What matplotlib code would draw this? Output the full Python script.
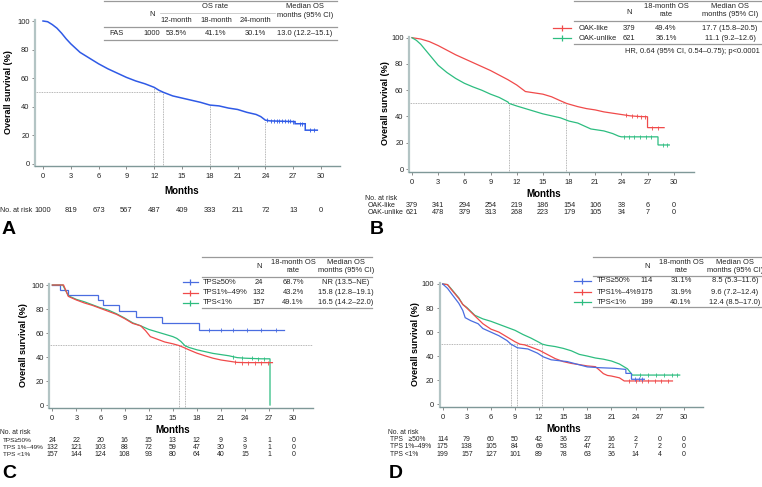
import numpy as np
import matplotlib
matplotlib.use('Agg')
import matplotlib.pyplot as plt
from matplotlib.transforms import blended_transform_factory

plt.rcParams['font.family'] = ['Liberation Sans', 'DejaVu Sans']

W, H = 762, 487

# ---------------- data ----------------
month_ticks = [0, 3, 6, 9, 12, 15, 18, 21, 24, 27, 30]

# A: full analysis set
a_t = [0, 0.5, 1, 1.5, 2, 2.5, 3, 3.5, 4, 5, 6, 7, 8, 9, 10, 11, 12, 12.5, 13, 14, 15, 16,
       17, 18, 19, 20, 21, 22, 23, 23.5, 24, 24.5, 27.2, 27.2, 28.3, 28.3, 29.6]
a_s = [100, 99.5, 97.5, 95, 91.5, 87.5, 84, 81, 78, 74, 70, 66.5, 63.5, 60.5, 58, 56, 53.5, 51.5,
       50, 47.5, 46, 44.5, 43, 41.1, 40.5, 39, 38, 36, 34.5, 33, 30.5, 30, 29.5, 28, 28, 23.5, 23.5]
a_cens = [24.2, 24.6, 24.9, 25.2, 25.5, 25.8, 26.1, 26.4, 26.7, 27.0, 27.7, 28.0, 28.8, 29.2]
a_risk = [1000, 819, 673, 567, 487, 409, 333, 211, 72, 13, 0]
a_median = 13.0

# B: OAK-like / OAK-unlike
b_like_t = [0, 0.5, 1, 2, 3, 4, 5, 6, 7, 8, 9, 10, 11, 12, 13, 14, 15, 16, 17, 17.7, 18, 19, 20,
            21, 22, 23, 24, 25, 26, 27.0, 27.0, 28.9]
b_like_s = [100, 99.5, 99, 97, 94, 90.5, 87, 84, 81, 78, 75, 71.5, 68, 64, 59, 58, 57, 55, 52, 50,
            49.4, 47.5, 46, 45, 43.5, 42.5, 41.5, 40.5, 40, 39.8, 31.5, 31.5]
b_unlike_t = [0, 0.5, 1, 1.5, 2, 3, 4, 5, 6, 7, 8, 9, 10, 11, 11.1, 12, 13, 14, 15, 16, 17, 18,
              19, 20, 20.5, 21, 22, 23, 23.7, 24, 28.2, 28.2, 29.5]
b_unlike_s = [100, 98, 95, 91, 87, 79, 73.5, 69, 65.3, 62.5, 60, 57, 54.5, 51, 50, 48, 46, 44, 42,
              40.5, 39, 36.5, 35, 32, 30.5, 30, 29, 27, 25, 24.5, 24.5, 18.3, 18.3]
b_like_cens = [24.5, 25.2, 25.8, 26.3, 26.7, 27.5, 28.2]
b_unlike_cens = [24.3, 24.9, 25.5, 26.1, 26.8, 27.4, 28.8, 29.2]
b_like_risk = [379, 341, 294, 254, 219, 186, 154, 106, 38, 6, 0]
b_unlike_risk = [621, 478, 379, 313, 268, 223, 179, 105, 34, 7, 0]
b_medians = [11.1, 17.7]

# C: TPS subgroups (set 1)
c_hi_t = [0, 1.0, 1.0, 2.0, 2.0, 5.7, 5.7, 6.35, 6.35, 8.3, 8.3, 10.4, 10.4, 13.6, 13.6, 18.3, 18.3, 28.9]
c_hi_s = [100, 100, 95.8, 95.8, 91.7, 91.7, 87.5, 87.5, 83.3, 83.3, 78.5, 78.5, 73.4, 73.4, 68.7,
          68.7, 62.5, 62.5]
c_mid_t = [0, 1.4, 2, 3, 4, 5, 6, 7, 8, 9, 10, 11, 11.6, 12.2, 13, 14, 15, 15.8, 16.5, 17, 18, 19,
           20, 21, 22, 23, 24, 27.4]
c_mid_s = [100, 100, 90.5, 87.5, 85, 83, 80.5, 78, 75.5, 72, 68, 66, 62, 57, 55, 52.5, 51, 49.5,
           47.5, 46, 43.2, 41, 39, 37.5, 36.5, 35.5, 35.3, 35.3]
c_lo_t = [0, 1.3, 2, 3, 4, 5, 6, 7, 8, 9, 10, 11, 12, 13, 14, 15, 15.5, 16, 16.5, 17, 18, 19, 20,
          21, 22, 23, 24, 26, 27.1, 27.1]
c_lo_s = [100, 100, 91, 88, 86, 83.5, 81, 79, 76, 72.5, 68.5, 66, 63, 61, 59, 57, 55.5, 53, 49.5,
          48, 46, 44.5, 43, 42, 41, 39.5, 39, 38.5, 38.5, 0]
c_hi_risk = [24, 22, 20, 16, 15, 13, 12, 9, 3, 1, 0]
c_mid_risk = [132, 121, 103, 88, 72, 59, 47, 30, 9, 1, 0]
c_lo_risk = [157, 144, 124, 108, 93, 80, 64, 40, 15, 1, 0]
c_medians = [15.8, 16.5]

# D: TPS subgroups (set 2)
d_hi_t = [0, 0.6, 1.2, 2.0, 2.5, 2.8, 3.5, 4.4, 5, 6, 7, 8, 8.5, 9.3, 10.6, 11.8, 12.5, 13.5, 15.5,
          17.2, 18, 19.3, 21.4, 22.8, 22.8, 23.5, 23.5, 25.1]
d_hi_s = [100, 96.4, 91, 84, 78, 72, 69.5, 67, 63, 60, 57, 53, 50, 47, 46, 42.5, 39.5, 37, 35.5,
          32.5, 31.1, 30.5, 29.9, 29, 25.7, 25.7, 20.8, 20.8]
d_mid_t = [0, 0.6, 1, 2, 2.5, 3, 4, 5, 6, 7, 8, 9, 9.6, 10.2, 11, 12, 13, 14, 15, 16, 17, 18, 19,
           19.5, 20, 20.5, 21, 22, 22.6, 28.6]
d_mid_s = [100, 99.5, 96, 88, 83, 80, 73.5, 67, 62.5, 60, 56, 52, 50, 49.4, 47.5, 45, 41.5, 38,
           35.5, 34, 33, 31.9, 31.3, 28.5, 25.5, 24, 23.5, 22, 19.4, 19.4]
d_lo_t = [0, 0.6, 1, 2, 2.5, 3, 4, 5, 6, 7, 8, 9, 10, 11, 12, 12.4, 13, 14, 15, 16, 17, 18, 19, 20,
          21, 22, 23, 23.3, 23.6, 29.5]
d_lo_s = [100, 99.5, 96.5, 88.5, 83, 80.5, 74, 71, 69, 66.5, 64, 61.5, 58, 55, 51.5, 50, 49, 48,
          46.5, 44.5, 41.5, 40.1, 38.5, 37.5, 36, 33.5, 29.5, 27, 24.3, 24.3]
d_hi_risk = [114, 79, 60, 50, 42, 36, 27, 16, 2, 0, 0]
d_mid_risk = [175, 138, 105, 84, 69, 53, 47, 21, 7, 2, 0]
d_lo_risk = [199, 157, 127, 101, 89, 78, 63, 36, 14, 4, 0]
d_medians = [8.5, 9.3, 12.4]

BLUE = '#2f5ae6'
BLUE2 = '#4a6de0'
RED = '#f04a4a'
GREEN = '#2dbd80'
TXT = '#222222'
GRID = '#8a8a8a'

fig = plt.figure(figsize=(W / 100, H / 100), dpi=100)

# overlay in pixel coordinates for tables and labels
ov = fig.add_axes([0, 0, 1, 1], zorder=10)
ov.set_xlim(0, W)
ov.set_ylim(H, 0)
ov.axis('off')
ov.patch.set_alpha(0)

FS = 5.4


def km_axes(L, R, B, X0, X30, Y100, Y0):
    top = Y100 - 1
    ax = fig.add_axes([L / W, 1 - B / H, (R - L) / W, (B - top) / H])
    ppm = (X30 - X0) / 30.0
    pps = (Y0 - Y100) / 100.0
    ax.set_xlim((L - X0) / ppm, (R - X0) / ppm)
    ax.set_ylim((Y0 - B) / pps, (Y0 - top) / pps)
    for s in ['top', 'right']:
        ax.spines[s].set_visible(False)
    ax.spines['left'].set_color('#b3c4c4')
    ax.spines['left'].set_linewidth(1.6)
    ax.spines['bottom'].set_color('#7f9898')
    ax.spines['bottom'].set_linewidth(1.0)
    ax.set_xticks(month_ticks)
    ax.set_yticks([0, 20, 40, 60, 80, 100])
    ax.tick_params(axis='both', labelsize=FS, colors='#777777', labelcolor=TXT,
                   length=2, width=0.6)
    ax.tick_params(axis='x', pad=3)
    ax.tick_params(axis='y', pad=2)
    ax.patch.set_alpha(0)
    return ax


def curve(ax, t, s, color, cens=None, lw=0.9):
    ax.plot(t, s, color=color, lw=lw, clip_on=False, solid_joinstyle='miter')
    if cens:
        cy = np.interp(cens, t, s)
        ax.plot(cens, cy, ls='none', marker='|', ms=2.5, mew=0.6, color=color, clip_on=False)


def median_lines(ax, meds, curves_at, hline_to):
    ax.plot([ax.get_xlim()[0], hline_to], [50, 50], ls=(0, (1.2, 1.2)), lw=0.5, color=GRID)
    for m, top in zip(meds, curves_at):
        ax.plot([m, m], [ax.get_ylim()[0], top], ls=(0, (1.2, 1.2)), lw=0.5, color=GRID)


def risk_row(ax, ypx, values, fs=FS):
    tr = blended_transform_factory(ax.transData, ov.transData)
    for m, v in zip(month_ticks, values):
        ax.text(m, ypx, str(v), transform=tr, ha='center', va='center', fontsize=fs,
                color=TXT, clip_on=False)


def txt(x, y, s, ha='center', **kw):
    kw.setdefault('fontsize', FS)
    kw.setdefault('color', TXT)
    ov.text(x, y, s, ha=ha, va='center', **kw)


def hline(x0, x1, y, lw=0.9, color='#9a9a9a'):
    ov.plot([x0, x1], [y, y], color=color, lw=lw)


def legend_mark(x0, x1, y, color):
    ov.plot([x0, x1], [y, y], color=color, lw=0.9)
    ov.plot([(x0 + x1) / 2], [y], marker='|', ms=5, mew=0.9, color=color)


# ---------------- Panel A ----------------
axA = km_axes(35, 340, 166, 43, 321, 21, 163.7)
median_lines(axA, [12, a_median, 18, 24], [53.5, 50, 41.1, 30.1], a_median)
curve(axA, a_t, a_s, BLUE, a_cens, lw=1.1)
txt(182, 191, 'Months', fontsize=7, fontweight='bold', color='black')
txt(8.5, 92, 'Overall survival (%)', rotation=90, fontsize=6.5, fontweight='bold', color='black')
txt(0, 211, 'No. at risk', ha='left', fontsize=5.1)
risk_row(axA, 211, a_risk)
txt(2, 230, 'A', ha='left', fontsize=14, fontweight='bold', color='black')

hline(104, 337, 0.8)
txt(152, 15, 'N')
txt(215, 6.5, 'OS rate')
hline(160, 275, 13.2, lw=0.5, color='#bbbbbb')
txt(305, 6.5, 'Median OS')
txt(305, 15.3, 'months (95% CI)')
for x, s in zip([176, 216, 255], ['12-month', '18-month', '24-month']):
    txt(x, 20, s)
hline(104, 337, 27)
for x, s in zip([116, 152, 176, 216, 255, 305],
                ['FAS', '1000', '53.5%', '41.1%', '30.1%', '13.0 (12.2\u201315.1)']):
    txt(x, 33.5, s)
hline(104, 337, 40.3)

# ---------------- Panel B ----------------
axB = km_axes(409, 694, 171.7, 412, 673.7, 37.7, 169)
median_lines(axB, b_medians, [50, 50], b_medians[1])
curve(axB, b_like_t, b_like_s, RED, b_like_cens)
curve(axB, b_unlike_t, b_unlike_s, GREEN, b_unlike_cens)
txt(543.7, 194, 'Months', fontsize=7, fontweight='bold', color='black')
txt(385, 103, 'Overall survival (%)', rotation=90, fontsize=6.5, fontweight='bold', color='black')
txt(365, 198, 'No. at risk', ha='left', fontsize=5.0)
txt(368, 205.3, 'OAK-like', ha='left', fontsize=5.0)
txt(368, 212.3, 'OAK-unlike', ha='left', fontsize=5.0)
risk_row(axB, 205.3, b_like_risk, 5.2)
risk_row(axB, 212.3, b_unlike_risk, 5.2)
txt(370, 230, 'B', ha='left', fontsize=14, fontweight='bold', color='black')

hline(574, 762, 0.8)
txt(629, 12, 'N')
txt(666, 6.3, '18-month OS')
txt(666, 14.8, 'rate')
txt(730, 6.3, 'Median OS')
txt(730, 14.8, 'months (95% CI)')
hline(574, 762, 21)
legend_mark(553, 571, 28.3, RED)
legend_mark(553, 571, 38.3, GREEN)
for y, row in zip([28.3, 38.3], [['OAK-like', '379', '49.4%', '17.7 (15.8\u201320.5)'],
                                 ['OAK-unlike', '621', '36.1%', '11.1 (9.2\u201312.6)']]):
    txt(579, y, row[0], ha='left')
    for x, s in zip([629, 666, 730], row[1:]):
        txt(x, y, s)
hline(574, 762, 44.3)
txt(760, 51.7, 'HR, 0.64 (95% CI, 0.54\u20130.75); p<0.0001', ha='right')

# ---------------- Panel C ----------------
axC = km_axes(49.3, 312.7, 407.7, 52.3, 293.3, 285, 405)
median_lines(axC, c_medians, [50, 50], axC.get_xlim()[1])
curve(axC, c_hi_t, c_hi_s, BLUE2, [19.5, 21.0, 22.5, 24.2, 26.0, 27.8])
curve(axC, c_lo_t, c_lo_s, GREEN, [22.5, 23.6, 24.8, 25.6, 26.4])
curve(axC, c_mid_t, c_mid_s, RED, [22.8, 23.6, 24.4, 25.2, 26.0, 26.8])
txt(173, 430, 'Months', fontsize=7, fontweight='bold', color='black')
txt(23.5, 345, 'Overall survival (%)', rotation=90, fontsize=6.5, fontweight='bold', color='black')
txt(0, 432.7, 'No. at risk', ha='left', fontsize=4.9)
for y, lab, vals in zip([440, 447.7, 455],
                        ['TPS\u226550%', 'TPS 1%\u201349%', 'TPS <1%'],
                        [c_hi_risk, c_mid_risk, c_lo_risk]):
    txt(3, y, lab, ha='left', fontsize=4.6)
    risk_row(axC, y, vals, 5.0)
txt(2, 474, 'C', ha='left', fontsize=14, fontweight='bold', color='black')

hline(201.7, 371.7, 257.3)
txt(259, 266.5, 'N')
txt(293, 262.7, '18-month OS')
txt(293, 270.7, 'rate')
txt(346, 262.7, 'Median OS')
txt(346, 270.7, 'months (95% CI)')
hline(201.7, 371.7, 276.5)
c_rows = [['TPS\u226550%', '24', '68.7%', 'NR (13.5\u2013NE)', BLUE2],
          ['TPS1%\u201349%', '132', '43.2%', '15.8 (12.8\u201319.1)', RED],
          ['TPS<1%', '157', '49.1%', '16.5 (14.2\u201322.0)', GREEN]]
for y, row in zip([282.3, 292.7, 302.7], c_rows):
    legend_mark(182.5, 198, y, row[4])
    txt(203, y, row[0], ha='left')
    for x, s in zip([259, 293, 346], row[1:4]):
        txt(x, y, s)
hline(201.7, 371.7, 308.3)

# ---------------- Panel D ----------------
axD = km_axes(439.7, 702.7, 407.3, 442.7, 683.7, 284, 404.3)
median_lines(axD, d_medians, [50, 50, 50], d_medians[2])
curve(axD, d_lo_t, d_lo_s, GREEN, [24.5, 25.5, 26.5, 27.5, 28.5, 29.2])
curve(axD, d_mid_t, d_mid_s, RED, [23.2, 24.0, 24.8, 25.6, 26.4, 27.2, 28.0])
curve(axD, d_hi_t, d_hi_s, BLUE2, [23.9, 24.4, 24.8])
txt(563.7, 429, 'Months', fontsize=7, fontweight='bold', color='black')
txt(415, 344, 'Overall survival (%)', rotation=90, fontsize=6.5, fontweight='bold', color='black')
txt(387.7, 432, 'No. at risk', ha='left', fontsize=4.9)
for y, lab, vals in zip([439.3, 446.7, 454.3],
                        ['TPS   \u226550%', 'TPS 1%\u201349%', 'TPS <1%'],
                        [d_hi_risk, d_mid_risk, d_lo_risk]):
    txt(390.3, y, lab, ha='left', fontsize=4.8)
    risk_row(axD, y, vals, 5.0)
txt(389, 474, 'D', ha='left', fontsize=14, fontweight='bold', color='black')

hline(592.7, 762, 256.7)
txt(647, 266, 'N')
txt(681, 262.7, '18-month OS')
txt(681, 270.3, 'rate')
txt(735, 262.7, 'Median OS')
txt(735, 270.3, 'months (95% CI)')
hline(592.7, 762, 276)
d_rows = [['TPS\u226550%', '114', '31.1%', '8.5 (5.3\u201311.6)', BLUE2],
          ['TPS1%\u20134%9', '175', '31.9%', '9.6 (7.2\u201312.4)', RED],
          ['TPS<1%', '199', '40.1%', '12.4 (8.5\u201317.0)', GREEN]]
for y, row in zip([281, 292, 302.3], d_rows):
    legend_mark(573.7, 591, y, row[4])
    txt(597, y, row[0], ha='left')
    for x, s in zip([647, 681, 735], row[1:4]):
        txt(x, y, s)
hline(592.7, 762, 307.3)

fig.savefig('out.png', dpi=100)
plt.close(fig)
